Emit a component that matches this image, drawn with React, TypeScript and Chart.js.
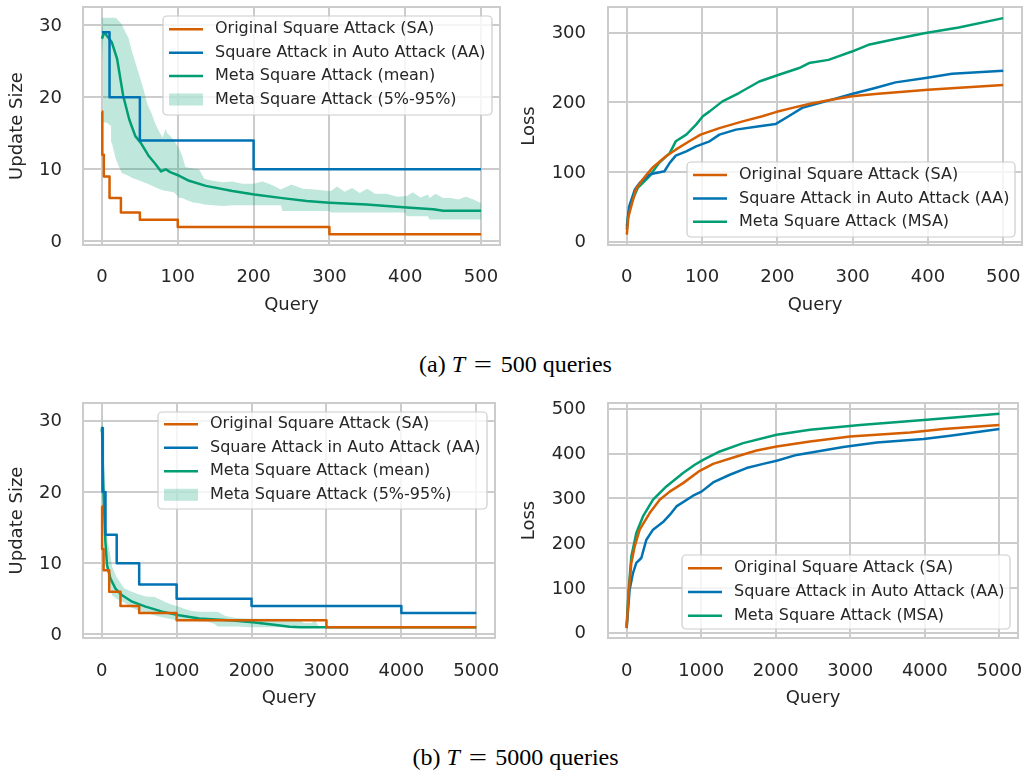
import React, { useEffect, useRef } from 'react';
import { Chart, registerables } from 'chart.js';

Chart.register(...registerables);

// ---------- colours & labels ----------
const C_SA = '#d55e00';
const C_AA = '#0173b2';
const C_MSA = '#029e73';
const C_BAND = 'rgba(2, 158, 115, 0.25)';
const GRID = '#cccccc';
const TEXT = '#262626';
const FONT = "'DejaVu Sans', sans-serif";

const LABEL_SA = 'Original Square Attack (SA)';
const LABEL_AA = 'Square Attack in Auto Attack (AA)';
const LABEL_MEAN = 'Meta Square Attack (mean)';
const LABEL_BAND = 'Meta Square Attack (5%-95%)';
const LABEL_MSA = 'Meta Square Attack (MSA)';

// ---------- tick labels ----------
const TICKS_X_500 = [0, 100, 200, 300, 400, 500];
const TICKS_X_5000 = [0, 1000, 2000, 3000, 4000, 5000];
const TICKS_SIZE = [0, 10, 20, 30];
const TICKS_LOSS_500 = [0, 100, 200, 300];
const TICKS_LOSS_5000 = [0, 100, 200, 300, 400, 500];

// ---------- (a) T = 500 : update size ----------
const A_SIZE_SA_X = [0, 0.5, 2.5, 10, 25, 50, 100, 300, 500];
const A_SIZE_SA_Y = [18, 12, 9, 6, 4, 3, 2, 1, 1];
const A_SIZE_AA_X = [0, 10, 50, 200, 500];
const A_SIZE_AA_Y = [29, 20, 14, 10, 10];
const A_MEAN_X = [0, 3, 8, 13, 20, 28, 36, 44, 51, 62, 70, 78, 84, 90, 102, 115, 137, 172, 201, 238, 270, 300, 349, 402, 437, 450, 470, 500];
const A_MEAN_Y = [28.1, 29, 28.3, 27.6, 25.3, 20.2, 16.9, 14.6, 13.7, 11.8, 10.8, 9.7, 10.0, 9.6, 9.1, 8.4, 7.7, 7.0, 6.5, 6.0, 5.6, 5.37, 5.1, 4.7, 4.45, 4.25, 4.25, 4.25];
const A_BAND_X = [0, 1.5, 2.6, 6, 12, 13, 18, 22, 26, 30, 35, 40, 45, 50, 55, 60, 66, 70, 75, 80, 84, 86, 90, 95, 102, 106, 110, 120, 128, 135, 146, 160, 172, 185, 200, 212, 225, 236, 238, 250, 265, 280, 300, 302, 310, 320, 330, 340, 350, 360, 375, 390, 400, 402, 410, 420, 430, 432, 440, 450, 460, 470, 480, 490, 500];
const A_BAND_HI = [31, 31, 31, 31, 31, 31, 31, 30.6, 30.1, 29.2, 28.2, 26.2, 24.5, 22.8, 21.0, 19.0, 17.6, 16.4, 15.3, 14.4, 15.6, 15.0, 14.6, 14.0, 12.8, 11.8, 10.3, 10.1, 10.0, 8.7, 8.4, 8.2, 8.3, 8.0, 8.0, 8.3, 7.8, 7.2, 7.3, 7.9, 7.3, 7.2, 7.0, 7.0, 7.6, 6.9, 7.4, 6.7, 7.3, 6.6, 6.6, 6.2, 6.3, 6.3, 6.8, 6.1, 6.5, 6.0, 6.6, 6.0, 6.0, 5.8, 6.2, 5.8, 5.3];
const A_BAND_LO = [28, 25, 16.5, 16.5, 16, 13.7, 11.5, 10.5, 9.5, 9.3, 9.1, 8.8, 8.6, 8.4, 8.2, 8.0, 7.7, 7.5, 7.3, 7.1, 7.0, 7.0, 6.9, 6.8, 6.0, 6.0, 5.8, 5.4, 5.3, 5.1, 5.0, 4.9, 5.0, 5.0, 5.0, 5.0, 5.0, 5.0, 4.2, 4.2, 4.2, 4.2, 4.2, 4.0, 4.0, 4.0, 4.0, 4.0, 4.0, 4.0, 4.0, 4.0, 4.0, 3.5, 3.5, 3.5, 3.5, 3.05, 3.05, 3.05, 3.05, 3.05, 3.05, 3.05, 3.05];

// ---------- (a) T = 500 : loss ----------
const A_LOSS_SA_X = [0, 2, 6, 12, 21, 34, 52, 65, 83, 98, 123, 154, 180, 198, 220, 242, 268, 299, 330, 400, 500];
const A_LOSS_SA_Y = [10, 35, 51, 75, 89, 106, 122.5, 132, 144, 153.6, 163, 172.7, 180, 186, 192, 197.6, 203, 208.6, 212, 218, 225];
const A_LOSS_AA_X = [0, 3, 10.6, 17, 30, 39, 50, 57, 65, 79, 92, 110, 123, 145, 176, 198, 215, 233, 264, 299, 330, 357, 397, 432, 500];
const A_LOSS_AA_Y = [17, 50, 74.6, 84, 96, 98.6, 101, 113, 123.4, 129.6, 136.8, 144, 153.6, 160.8, 165.5, 169, 180, 192, 201.4, 212, 220.6, 228.7, 234.9, 241, 245.4];
const A_LOSS_MSA_X = [0, 2, 5.7, 14.5, 30, 43, 57, 65, 79, 92, 101, 110, 127, 149, 176, 202, 229, 242, 268, 299, 321, 357, 397, 441, 500];
const A_LOSS_MSA_Y = [22, 40, 55.5, 77, 93.7, 113, 127, 144, 153.6, 168, 180, 187, 201.4, 213.4, 230, 239.7, 249.3, 256.5, 261, 273, 282.7, 290.9, 299.7, 307.6, 321];

// ---------- (b) T = 5000 : update size ----------
const B_SIZE_SA_X = [0, 5, 25, 100, 250, 500, 1000, 3000, 5000];
const B_SIZE_SA_Y = [18, 12, 9, 6, 4, 3, 2, 1, 1];
const B_SIZE_AA_X = [0, 10, 50, 200, 500, 1000, 2000, 4000, 5000];
const B_SIZE_AA_Y = [29, 20, 14, 10, 7, 5, 4, 3, 3];
const B_MEAN_X = [0, 4, 15, 27, 49, 71, 116, 183, 272, 406, 585, 808, 1032, 1300, 1747, 2015, 2300, 2507, 2650, 5000];
const B_MEAN_Y = [28.5, 29, 24, 19, 13, 9.7, 7.85, 6.45, 5.5, 4.6, 3.9, 3.2, 2.7, 2.25, 1.95, 1.72, 1.35, 1.07, 1.0, 1.0];
const B_BAND_X = [0, 10, 20, 35, 50, 80, 100, 140, 200, 300, 400, 500, 600, 700, 800, 900, 1000, 1100, 1200, 1300, 1400, 1500, 1550, 1650, 1800, 2000, 2200, 2400, 2600, 2700, 2800, 2850, 2900, 5000];
const B_BAND_HI = [31, 30, 26, 20, 16, 13, 12, 9.5, 8.0, 6.5, 6.0, 5.6, 5.3, 5.3, 4.8, 4.3, 4.0, 3.6, 3.3, 3.2, 3.2, 3.2, 3.2, 2.6, 2.3, 2.2, 2.2, 2.2, 2.2, 1.6, 1.6, 2.0, 1.0, 1.0];
const B_BAND_LO = [28, 24, 18, 13, 10, 8.5, 7.5, 5.5, 5.0, 4.5, 3.8, 3.3, 3.0, 2.7, 2.4, 2.2, 2.0, 2.0, 2.0, 1.8, 1.8, 1.5, 1.1, 1.1, 1.1, 1.0, 1.0, 1.0, 1.0, 1.0, 1.0, 1.0, 1.0, 1.0];

// ---------- (b) T = 5000 : loss ----------
const B_LOSS_SA_X = [0, 31, 63, 108, 175, 309, 444, 578, 757, 981, 1160, 1474, 1743, 2012, 2460, 2997, 3804, 4251, 5000];
const B_LOSS_SA_Y = [10, 96, 155.6, 192.6, 230, 267, 297, 315, 334, 361.6, 377, 393.6, 407, 416, 427, 438, 447, 454.7, 464];
const B_LOSS_AA_X = [0, 40, 85, 130, 197, 265, 354, 488, 578, 668, 891, 1004, 1160, 1384, 1608, 1832, 2012, 2281, 2907, 3356, 3982, 4341, 5000];
const B_LOSS_AA_Y = [10, 96, 133, 155.6, 166.7, 207.6, 230, 247, 263, 282, 305.8, 315, 335.5, 352.7, 367.6, 377, 384, 397, 414.5, 425, 432.4, 439.7, 454.7];
const B_LOSS_MSA_X = [0, 27, 63, 130, 219, 354, 533, 757, 914, 1026, 1250, 1563, 2012, 2460, 3132, 4028, 5000];
const B_LOSS_MSA_Y = [15, 96, 170, 222.5, 259.6, 297, 326.6, 356.5, 375, 386, 404.7, 423.4, 442, 453, 464, 475.4, 488.8];

// ---------- helpers ----------
const pts = (xs: number[], ys: number[]) => xs.map((x, i) => ({ x, y: ys[i] }));

const lineDs = (label: string, xs: number[], ys: number[], color: string, stepped = false) => ({
  label,
  data: pts(xs, ys),
  borderColor: color,
  backgroundColor: color,
  borderWidth: 2.5,
  stepped: stepped ? 'before' : false,
  fill: false,
  pointRadius: 0,
});

const bandDs = (xs: number[], lo: number[], hi: number[]) => [
  { data: pts(xs, lo), borderWidth: 0, borderColor: 'rgba(0,0,0,0)', pointRadius: 0, fill: false },
  { label: LABEL_BAND, data: pts(xs, hi), borderWidth: 0, borderColor: 'rgba(0,0,0,0)', backgroundColor: C_BAND, pointRadius: 0, fill: '-1' },
];

const framePlugin = {
  id: 'frame',
  beforeDatasetsDraw(chart: any) {
    const { left, top, width, height } = chart.chartArea;
    const ctx = chart.ctx;
    ctx.save();
    ctx.strokeStyle = GRID;
    ctx.lineWidth = 2;
    ctx.strokeRect(left, top, width, height);
    ctx.restore();
  },
};

const boxLegendPlugin = {
  id: 'boxLegend',
  afterDatasetsDraw(chart: any, _args: any, o: any) {
    const ctx = chart.ctx;
    ctx.save();
    const r = 4;
    ctx.beginPath();
    ctx.moveTo(o.x + r, o.y);
    ctx.lineTo(o.x + o.w - r, o.y);
    ctx.arcTo(o.x + o.w, o.y, o.x + o.w, o.y + r, r);
    ctx.lineTo(o.x + o.w, o.y + o.h - r);
    ctx.arcTo(o.x + o.w, o.y + o.h, o.x + o.w - r, o.y + o.h, r);
    ctx.lineTo(o.x + r, o.y + o.h);
    ctx.arcTo(o.x, o.y + o.h, o.x, o.y + o.h - r, r);
    ctx.lineTo(o.x, o.y + r);
    ctx.arcTo(o.x, o.y, o.x + r, o.y, r);
    ctx.closePath();
    ctx.fillStyle = 'rgba(255,255,255,0.8)';
    ctx.fill();
    ctx.strokeStyle = GRID;
    ctx.lineWidth = 1.2;
    ctx.stroke();
    const items = chart.data.datasets.filter((d: any) => d.label);
    items.forEach((d: any, i: number) => {
      const ry = o.row0 + i * o.rowStep;
      if (d.fill) {
        ctx.fillStyle = d.backgroundColor;
        ctx.fillRect(o.hx0, ry - 6, o.hx1 - o.hx0, 12);
      } else {
        ctx.strokeStyle = d.borderColor;
        ctx.lineWidth = 2.5;
        ctx.beginPath();
        ctx.moveTo(o.hx0, ry);
        ctx.lineTo(o.hx1, ry);
        ctx.stroke();
      }
      ctx.fillStyle = TEXT;
      ctx.font = `16px ${FONT}`;
      ctx.textBaseline = 'middle';
      ctx.textAlign = 'left';
      ctx.fillText(d.label, o.tx, ry);
    });
    ctx.restore();
  },
};

type PanelSpec = {
  w: number; h: number;
  area: { left: number; right: number; top: number; bottom: number };
  xMin: number; xMax: number; xTicks: number[];
  yMin: number; yMax: number; yTicks: number[];
  yTitle: string;
  xTickPad: number; yTickPad: number; xTitlePad: number; yTitlePad: number;
  datasets: any[];
  legend: any;
};

const zeroPad = (s: any) => {
  s.paddingLeft = 0;
  s.paddingRight = 0;
  s.paddingTop = 0;
  s.paddingBottom = 0;
};

function buildConfig(p: PanelSpec): any {
  const font = { family: FONT, size: 18 };
  return {
    type: 'line',
    data: { datasets: p.datasets },
    options: {
      responsive: false,
      animation: false,
      devicePixelRatio: 1,
      events: [],
      layout: { padding: { left: 0, top: p.area.top, right: p.w - p.area.right, bottom: 0 } },
      elements: { point: { radius: 0 }, line: { tension: 0, borderJoinStyle: 'round', borderCapStyle: 'butt' } },
      scales: {
        x: {
          type: 'linear',
          min: p.xMin,
          max: p.xMax,
          bounds: 'data',
          afterFit: (s: any) => { s.height = p.h - p.area.bottom; zeroPad(s); },
          afterBuildTicks: (s: any) => { s.ticks = p.xTicks.map((v) => ({ value: v })); },
          grid: { color: GRID, lineWidth: 2, drawTicks: false },
          border: { display: false },
          ticks: { font, color: TEXT, padding: p.xTickPad, autoSkip: false, maxRotation: 0, callback: (v: any) => String(v) },
          title: { display: true, text: 'Query', font, color: TEXT, padding: { top: 0, bottom: p.xTitlePad } },
        },
        y: {
          type: 'linear',
          min: p.yMin,
          max: p.yMax,
          bounds: 'data',
          afterFit: (s: any) => { s.width = p.area.left; zeroPad(s); },
          afterBuildTicks: (s: any) => { s.ticks = p.yTicks.map((v) => ({ value: v })); },
          grid: { color: GRID, lineWidth: 2, drawTicks: false },
          border: { display: false },
          ticks: { font, color: TEXT, padding: p.yTickPad, labelOffset: 1, autoSkip: false, callback: (v: any) => String(v) },
          title: { display: true, text: p.yTitle, font, color: TEXT, padding: { top: p.yTitlePad, bottom: 0 } },
        },
      },
      plugins: {
        legend: { display: false },
        tooltip: { enabled: false },
        boxLegend: p.legend,
      },
    },
    plugins: [framePlugin, boxLegendPlugin],
  };
}

function Panel({ left, top, spec }: { left: number; top: number; spec: PanelSpec }) {
  const ref = useRef<HTMLCanvasElement>(null);
  useEffect(() => {
    const chart = new Chart(ref.current as HTMLCanvasElement, buildConfig(spec));
    return () => chart.destroy();
  }, []);
  return (
    <canvas
      ref={ref}
      width={spec.w}
      height={spec.h}
      style={{ position: 'absolute', left, top, width: spec.w, height: spec.h }}
    />
  );
}

const SPEC_A_SIZE: PanelSpec = {
  w: 510, h: 330,
  area: { left: 83, right: 500, top: 7, bottom: 245 },
  xMin: -25, xMax: 525, xTicks: TICKS_X_500,
  yMin: -0.5, yMax: 32.5, yTicks: TICKS_SIZE,
  yTitle: 'Update Size',
  xTickPad: 22, yTickPad: 21, xTitlePad: 14, yTitlePad: 7,
  datasets: [
    lineDs(LABEL_SA, A_SIZE_SA_X, A_SIZE_SA_Y, C_SA, true),
    lineDs(LABEL_AA, A_SIZE_AA_X, A_SIZE_AA_Y, C_AA, true),
    lineDs(LABEL_MEAN, A_MEAN_X, A_MEAN_Y, C_MSA),
    ...bandDs(A_BAND_X, A_BAND_LO, A_BAND_HI),
  ],
  legend: { x: 163, y: 16, w: 329, h: 99, row0: 29.3, rowStep: 23.4, hx0: 169, hx1: 203, tx: 215 },
};

const SPEC_A_LOSS: PanelSpec = {
  w: 515, h: 330,
  area: { left: 98, right: 512, top: 7, bottom: 245 },
  xMin: -25, xMax: 525, xTicks: TICKS_X_500,
  yMin: -5, yMax: 337, yTicks: TICKS_LOSS_500,
  yTitle: 'Loss',
  xTickPad: 22, yTickPad: 22, xTitlePad: 14, yTitlePad: 9,
  datasets: [
    lineDs(LABEL_SA, A_LOSS_SA_X, A_LOSS_SA_Y, C_SA),
    lineDs(LABEL_AA, A_LOSS_AA_X, A_LOSS_AA_Y, C_AA),
    lineDs(LABEL_MSA, A_LOSS_MSA_X, A_LOSS_MSA_Y, C_MSA),
  ],
  legend: { x: 177, y: 162, w: 328, h: 75, row0: 175, rowStep: 23.4, hx0: 183, hx1: 217, tx: 229 },
};

const SPEC_B_SIZE: PanelSpec = {
  w: 510, h: 330,
  area: { left: 83, right: 495, top: 13, bottom: 248 },
  xMin: -250, xMax: 5250, xTicks: TICKS_X_5000,
  yMin: -0.5, yMax: 32.5, yTicks: TICKS_SIZE,
  yTitle: 'Update Size',
  xTickPad: 23, yTickPad: 21, xTitlePad: 11, yTitlePad: 7,
  datasets: [
    lineDs(LABEL_SA, B_SIZE_SA_X, B_SIZE_SA_Y, C_SA, true),
    lineDs(LABEL_AA, B_SIZE_AA_X, B_SIZE_AA_Y, C_AA, true),
    lineDs(LABEL_MEAN, B_MEAN_X, B_MEAN_Y, C_MSA),
    ...bandDs(B_BAND_X, B_BAND_LO, B_BAND_HI),
  ],
  legend: { x: 158, y: 22, w: 329, h: 97, row0: 34.3, rowStep: 23.5, hx0: 164, hx1: 198, tx: 210 },
};

const SPEC_B_LOSS: PanelSpec = {
  w: 515, h: 330,
  area: { left: 98, right: 508, top: 13, bottom: 248 },
  xMin: -250, xMax: 5250, xTicks: TICKS_X_5000,
  yMin: -12, yMax: 513, yTicks: TICKS_LOSS_5000,
  yTitle: 'Loss',
  xTickPad: 23, yTickPad: 22, xTitlePad: 11, yTitlePad: 9,
  datasets: [
    lineDs(LABEL_SA, B_LOSS_SA_X, B_LOSS_SA_Y, C_SA),
    lineDs(LABEL_AA, B_LOSS_AA_X, B_LOSS_AA_Y, C_AA),
    lineDs(LABEL_MSA, B_LOSS_MSA_X, B_LOSS_MSA_Y, C_MSA),
  ],
  legend: { x: 172, y: 165, w: 328, h: 74, row0: 178.3, rowStep: 23.7, hx0: 178, hx1: 212, tx: 224 },
};

function Caption({ top, tag, n }: { top: number; tag: string; n: string }) {
  return (
    <div
      style={{
        position: 'absolute', left: 0, width: 1031, top, textAlign: 'center',
        fontFamily: "'Liberation Serif', serif", fontSize: 24, lineHeight: '24px', color: '#000',
        whiteSpace: 'nowrap',
      }}
    >
      ({tag}) <i>T</i>
      <span style={{ display: 'inline-block', margin: '0 11px', transform: 'scaleX(1.35)' }}>=</span>
      {n} queries
    </div>
  );
}

export default function App() {
  return (
    <div style={{ position: 'absolute', left: 0, top: 0, width: 1025, height: 770, background: '#fff', overflow: 'hidden' }}>
      <Panel left={0} top={0} spec={SPEC_A_SIZE} />
      <Panel left={510} top={0} spec={SPEC_A_LOSS} />
      <Caption top={352} tag="a" n="500" />
      <Panel left={0} top={390} spec={SPEC_B_SIZE} />
      <Panel left={510} top={390} spec={SPEC_B_LOSS} />
      <Caption top={745} tag="b" n="5000" />
    </div>
  );
}
